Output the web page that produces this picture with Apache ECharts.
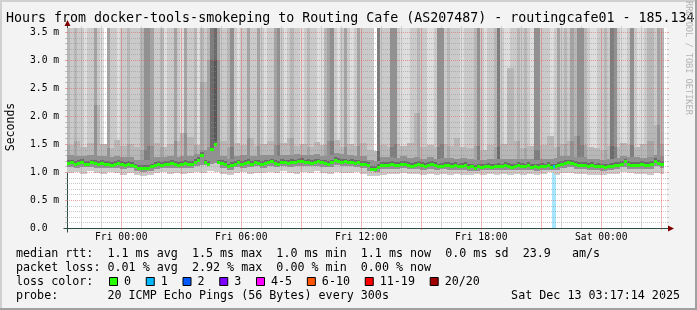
<!DOCTYPE html>
<html><head><meta charset="utf-8">
<script src="https://cdn.jsdelivr.net/npm/echarts@6.0.0/dist/echarts.min.js"></script>
<style>html,body{margin:0;padding:0;background:#f3f3f3;overflow:hidden}#chart{width:697px;height:310px}</style>
</head><body><div id="chart"></div>
<script>
// ---------------- data ----------------
const titleText = 'Hours from docker-tools-smokeping to Routing Cafe (AS207487) - routingcafe01 - 185.134';
const endHour = 27.2872;            // Sat 03:17:14, hours after Fri 00:00
const spanHours = 30;
const startHour = endHour - spanHours;
const stepHours = 1 / 6;            // 10-minute buckets
const yMax = 3.5714;                // ms
const yTickValues = [0, 0.5, 1.0, 1.5, 2.0, 2.5, 3.0, 3.5];
const xTickHours = [0, 6, 12, 18, 24];
const xTickLabels = ['Fri 00:00', 'Fri 06:00', 'Fri 12:00', 'Fri 18:00', 'Sat 00:00'];
const majorGridHours = [0,3,6,9,12,15,18,21,24,27];
const minorGridHours = [-2,-1,1,2,4,5,7,8,10,11,13,14,16,17,19,20,22,23,25,26];

// median rtt per 10-minute bucket (ms)
const medianRtt = [
  1.16,1.17,1.15,1.16,1.18,1.14,1.15,1.17,1.16,1.15,
  1.16,1.14,1.15,1.13,1.15,1.16,1.14,1.13,1.15,1.12,
  1.10,1.08,1.07,1.08,1.07,1.10,1.12,1.14,1.13,1.15,
  1.14,1.16,1.15,1.13,1.14,1.16,1.15,1.14,1.18,1.22,
  1.30,1.17,1.15,1.41,1.50,1.17,1.16,1.14,1.10,1.12,
  1.15,1.17,1.15,1.16,1.18,1.15,1.17,1.16,1.15,1.16,
  1.17,1.19,1.16,1.15,1.18,1.17,1.16,1.18,1.17,1.19,
  1.20,1.17,1.18,1.16,1.18,1.19,1.17,1.16,1.15,1.17,
  1.22,1.20,1.18,1.19,1.17,1.18,1.16,1.17,1.15,1.14,
  1.12,1.06,1.05,1.09,1.12,1.13,1.12,1.14,1.13,1.12,
  1.14,1.15,1.13,1.11,1.13,1.14,1.12,1.11,1.13,1.14,
  1.12,1.10,1.11,1.13,1.12,1.11,1.12,1.10,1.11,1.12,
  1.09,1.10,1.08,1.10,1.09,1.10,1.11,1.09,1.10,1.11,
  1.10,1.12,1.11,1.09,1.10,1.12,1.11,1.10,1.12,1.09,
  1.10,1.09,1.11,1.10,1.12,1.09,1.10,1.13,1.15,1.16,
  1.17,1.16,1.14,1.13,1.12,1.13,1.11,1.12,1.10,1.11,
  1.10,1.09,1.10,1.11,1.13,1.12,1.14,1.19,1.14,1.13,
  1.12,1.13,1.14,1.13,1.12,1.14,1.20,1.16,1.15
];
// number of the 20 pings above the top of the graph, per 10-minute bucket
const pingsAboveTop = [
  3,2,3,2,2,1,2,2,4,2, 1,0,4,2,2,1,2,2,3,2, 2,2,3,5,5,4,2,2,3,1,
  2,2,4,2,1,4,2,2,3,1, 3,2,3,6,7,4,2,2,3,5, 2,1,2,2,4,2,2,4,2,1,
  2,2,4,5,2,1,2,3,2,2, 1,2,3,2,2,1,1,3,4,5, 2,1,2,4,2,1,2,4,2,2,
  2,2,0,6,2,2,2,5,5,2, 1,1,1,2,2,3,2,2,1,1, 2,5,5,2,3,2,2,2,1,2,
  2,2,3,5,2,1,2,2,3,6, 2,1,1,2,2,3,2,3,2,1, 5,5,2,2,2,1,2,4,2,3,
  2,4,3,5,5,3,2,1,1,2, 2,3,2,6,5,2,1,1,2,5, 2,1,1,2,3,3,2,4,3
];
// smoke levels per 20-minute bucket (ms)
const pingMin = [
  0.98,1.00,0.97,1.01,0.99,0.96,1.00,0.98,0.95,0.99, 0.94,0.93,0.95,0.98,1.00,0.97,0.99,0.96,0.98,1.00,
  0.99,1.01,1.00,0.97,0.95,0.98,1.00,0.97,0.99,0.98, 1.00,0.98,1.01,0.99,0.97,1.00,0.98,1.01,0.99,0.97,
  1.00,0.99,0.98,1.00,0.96,0.93,0.92,0.95,0.97,0.96, 0.98,0.96,0.97,0.94,0.97,0.95,0.96,0.95,0.97,0.94,
  0.95,0.96,0.94,0.96,0.95,0.97,0.95,0.96,0.94,0.97, 0.95,0.96,1.00,0.95,0.98,0.99,0.96,0.97,0.95,0.94,
  0.95,0.96,0.97,1.00,0.98,0.96,0.97,0.95,0.99,0.97
];
const bandLow = [
  1.09,1.08,1.09,1.09,1.08,1.08,1.07,1.08,1.06,1.07, 1.02,1.00,1.01,1.05,1.07,1.08,1.07,1.08,1.07,1.10,
  1.12,1.14,1.16,1.08,1.04,1.09,1.08,1.09,1.10,1.08, 1.10,1.09,1.10,1.09,1.11,1.11,1.10,1.11,1.09,1.09,
  1.13,1.11,1.10,1.09,1.07,1.02,1.00,1.05,1.06,1.05, 1.07,1.05,1.06,1.04,1.06,1.04,1.05,1.04,1.04,1.04,
  1.02,1.02,1.03,1.03,1.03,1.04,1.03,1.04,1.03,1.04, 1.02,1.03,1.04,1.04,1.08,1.09,1.06,1.05,1.04,1.03,
  1.02,1.03,1.05,1.09,1.06,1.05,1.05,1.06,1.10,1.08
];
const bandHigh = [
  1.30,1.28,1.29,1.31,1.28,1.28,1.27,1.29,1.26,1.27, 1.22,1.21,1.22,1.26,1.27,1.28,1.27,1.29,1.28,1.33,
  1.40,1.45,1.50,1.29,1.24,1.29,1.30,1.28,1.29,1.30, 1.31,1.29,1.30,1.31,1.32,1.31,1.30,1.32,1.29,1.30,
  1.34,1.32,1.30,1.29,1.28,1.22,1.20,1.26,1.26,1.25, 1.28,1.25,1.27,1.24,1.27,1.24,1.25,1.25,1.24,1.25,
  1.23,1.22,1.22,1.23,1.24,1.24,1.23,1.24,1.23,1.24, 1.22,1.23,1.24,1.25,1.28,1.29,1.27,1.26,1.24,1.23,
  1.22,1.24,1.25,1.29,1.27,1.26,1.25,1.26,1.30,1.28
];
const bandUpper = [
  1.48,1.55,1.45,1.52,2.20,1.50,1.42,1.58,1.46,1.50, 1.44,1.40,1.47,1.52,1.45,1.50,1.55,1.70,1.62,1.48,
  2.60,3.00,3.00,1.55,1.45,1.52,1.48,1.60,1.46,1.50, 1.55,1.48,1.52,1.60,1.46,1.50,1.45,1.53,1.48,1.55,
  1.58,1.45,1.50,1.47,1.52,1.40,1.38,1.48,1.44,1.50, 1.46,1.52,2.05,1.45,1.48,1.44,1.50,1.46,1.60,1.45,
  1.42,1.46,1.40,1.48,1.44,1.50,2.85,1.55,1.42,1.46, 1.40,1.48,1.65,1.45,1.50,1.55,1.65,1.48,1.44,1.42,
  1.40,1.46,1.45,1.52,1.48,1.45,1.50,1.55,1.84,1.50
];
// packet loss events: start / end hour, lost pings
const lossStart = [21.53];
const lossEnd = [21.745];
const lossPings = [1];

const lossLegend = ['0', '1', '2', '3', '4-5', '6-10', '11-19', '20/20'];
const lossUpper = [0, 1, 2, 3, 5, 10, 19, 20];
const lossColors = ['#26ff00', '#00b8ff', '#0059ff', '#7e00ff', '#ff00ff', '#ff5500', '#ff0000', '#a10000'];

const statLines = [
  'median rtt:  1.1 ms avg  1.5 ms max  1.0 ms min  1.1 ms now  0.0 ms sd  23.9   am/s',
  'packet loss: 0.01 % avg  2.92 % max  0.00 % min  0.00 % now'
];
const lossColorLabel = 'loss color:';
const probeLine = 'probe:       20 ICMP Echo Pings (56 Bytes) every 300s';
const stampText = 'Sat Dec 13 03:17:14 2025';
const creditText = 'RRDTOOL / TOBI OETIKER';

// ---------------- styles ----------------
const FONT = "'DejaVu Sans Mono', monospace";
const GRID = 'rgba(144,144,144,0.5)';
const MGRID = 'rgba(224,80,80,0.5)';
const VGRID = 'rgba(150,150,150,0.35)';
const VMGRID = 'rgba(224,80,80,0.4)';
const AXIS = '#2c4d43';
const ARROW = '#800000';

function shade(level) {
  if (level <= 0) return null;
  level = Math.min(level, 10);
  const g = Math.round(190 / 10 * (10 - level)) + 50;
  const h = g.toString(16).padStart(2, '0');
  return '#' + h + h + h;
}
function lossIndex(n) { for (let i = 0; i < lossUpper.length; i++) if (n <= lossUpper[i]) return i; return lossUpper.length - 1; }

const smokeData = medianRtt.map((m, i) => {
  const j = Math.floor(i / 2);
  const t0 = startHour + i * stepHours;
  return [t0, t0 + stepHours, pingMin[j], bandLow[j], m, bandHigh[j], bandUpper[j], pingsAboveTop[i]];
});
const medianData = medianRtt.map((m, i) => {
  const t0 = startHour + i * stepHours;
  return [t0, t0 + stepHours, m];
});
const lossData = lossStart.map((s, n) => {
  const mid = (s + lossEnd[n]) / 2;
  const idx = Math.min(medianRtt.length - 1, Math.floor((mid - startHour) / stepHours));
  return [s, lossEnd[n], lossPings[n], medianRtt[idx]];
});
const gridLevels = [];
for (let k = 1; k <= Math.floor(yMax * 10); k++) gridLevels.push(k);   // tenths of a ms

function px(api, t, v) { const p = api.coord([t, v]); return [Math.round(p[0]), Math.round(p[1])]; }
function xr(api, t) { return px(api, t, 0)[0]; }
function yr(api, v) { return px(api, startHour, Math.max(0, Math.min(v, yMax)))[1]; }

function renderSmoke(params, api) {
  const t0 = api.value(0), t1 = api.value(1);
  const x0 = xr(api, t0), x1 = xr(api, t1);
  const kids = [];
  const band = (lo, hi, col) => {
    if (!col) return;
    const ya = yr(api, hi), yb = yr(api, lo);
    if (yb - ya <= 0) return;
    kids.push({ type: 'rect', shape: { x: x0, y: ya, width: x1 - x0, height: yb - ya }, style: { fill: col } });
  };
  const pMin = api.value(2), pLow = api.value(3), med = api.value(4), pHigh = api.value(5), pUp = api.value(6), k = api.value(7);
  band(pUp, yMax, shade(k));
  band(pHigh, pUp, shade(Math.max(k + 1, 3)));
  band(pMin, pLow, shade(2));
  band(pLow, pHigh, shade(5));
  band(med - 0.03, med + 0.05, shade(7));
  return { type: 'group', children: kids };
}
function renderMedian(params, api) {
  const x0 = xr(api, api.value(0)), x1 = xr(api, api.value(1));
  const y = yr(api, api.value(2));
  return { type: 'rect', shape: { x: x0, y: y - 1, width: x1 - x0, height: 3 }, style: { fill: lossColors[0] } };
}
function renderLossBg(params, api) {
  const x0 = xr(api, api.value(0)), x1 = xr(api, api.value(1));
  const col = lossColors[lossIndex(api.value(2))];
  const ya = yr(api, yMax), yb = yr(api, 0);
  return { type: 'rect', shape: { x: x0, y: ya, width: x1 - x0, height: yb - ya }, style: { fill: col, opacity: 0.35 } };
}
function renderLossCap(params, api) {
  const x0 = xr(api, api.value(0)), x1 = xr(api, api.value(1));
  const col = lossColors[lossIndex(api.value(2))];
  const y = yr(api, api.value(3));
  return { type: 'rect', shape: { x: x0 + 1, y: y - 1, width: Math.max(2, x1 - x0 - 2), height: 3 }, style: { fill: col } };
}
// horizontal grid: dotted lines as 1px dots
function renderGridH(params, api) {
  const kids = [];
  const dot = (x, y, w, h, col) => kids.push({ type: 'rect', shape: { x: x, y: y, width: w, height: h }, style: { fill: col } });
  const l = xr(api, startHour), r = xr(api, endHour);
  gridLevels.forEach(k => {
    const col = k % 5 === 0 ? MGRID : GRID;
    const y = yr(api, k / 10);
    for (let x = l; x < r; x += 2) dot(x, y, 1, 1, col);
    dot(l - 2, y, 2, 1, col);
    dot(r, y, 2, 1, col);
  });
  return { type: 'group', children: kids };
}

const chart = echarts.init(document.getElementById('chart'), null, { renderer: 'canvas' });
chart.setOption({
  animation: false,
  backgroundColor: '#f3f3f3',
  grid: { left: 67, right: 30, top: 28, bottom: 82, show: true, backgroundColor: '#ffffff', borderWidth: 0 },
  xAxis: [{
    // bottom axis: labels every 6 h, red major grid every 3 h
    type: 'value', min: startHour, max: endHour, position: 'bottom', z: 3,
    axisLine: { show: false },
    axisTick: { show: true, customValues: majorGridHours, length: 2, inside: false, lineStyle: { color: VMGRID } },
    splitLine: { show: true, lineStyle: { color: VMGRID, type: 'solid', width: 1 } },
    axisLabel: {
      customValues: majorGridHours, margin: 4, color: '#000', fontFamily: FONT, fontSize: 9.7,
      formatter: v => { const i = xTickHours.indexOf(v); return i >= 0 ? xTickLabels[i] : ''; }
    }
  }, {
    // top axis: grey minor grid every hour
    type: 'value', min: startHour, max: endHour, position: 'top', z: 3,
    axisLine: { show: false },
    axisTick: { show: true, customValues: minorGridHours, length: 2, lineStyle: { color: VGRID } },
    splitLine: { show: true, lineStyle: { color: VGRID, type: 'solid', width: 1 } },
    axisLabel: { show: false }
  }],
  yAxis: {
    type: 'value', min: 0, max: yMax,
    axisLine: { show: false }, axisTick: { show: false }, splitLine: { show: false },
    axisLabel: {
      customValues: yTickValues, margin: 37, align: 'left', color: '#000', fontFamily: FONT, fontSize: 9.7,
      formatter: v => v === 0 ? '0.0' : v.toFixed(1) + ' m'
    }
  },
  series: [
    { type: 'custom', name: 'lossbg', z: 1, data: lossData, renderItem: renderLossBg, silent: true },
    { type: 'custom', name: 'smoke', z: 2, data: smokeData, renderItem: renderSmoke, silent: true },
    { type: 'custom', name: 'gridH', z: 3, data: [[startHour, 0]], renderItem: renderGridH, silent: true },
    { type: 'custom', name: 'median', z: 4, data: medianData, renderItem: renderMedian, silent: true },
    { type: 'custom', name: 'losscap', z: 5, data: lossData, renderItem: renderLossCap, silent: true }
  ]
});

const p0 = chart.convertToPixel({ gridIndex: 0 }, [startHour, 0]);
const p1 = chart.convertToPixel({ gridIndex: 0 }, [endHour, yMax]);
const ax = Math.round(p0[0]) + 0.5, ay = Math.round(p0[1]) + 0.5;
const rx = Math.round(p1[0]), ty = Math.round(p1[1]);
const W = 697, H = 310;
const cw = 7.05;
const txt = (x, y, text, extra) => Object.assign({ type: 'text', x, y, silent: true, style: Object.assign({ text, fill: '#000', font: '11.7px ' + FONT, align: 'left', verticalAlign: 'middle' }, extra || {}) });
const g = [];
// frame shades
g.push({ type: 'rect', silent: true, shape: { x: 0, y: 0, width: W, height: 2 }, style: { fill: '#d0d0d0' } });
g.push({ type: 'rect', silent: true, shape: { x: 0, y: 0, width: 2, height: H }, style: { fill: '#d0d0d0' } });
g.push({ type: 'rect', silent: true, shape: { x: 0, y: H - 2, width: W, height: 2 }, style: { fill: '#a0a0a0' } });
g.push({ type: 'rect', silent: true, shape: { x: W - 2, y: 0, width: 2, height: H }, style: { fill: '#a0a0a0' } });
// axes + arrows
g.push({ type: 'line', silent: true, shape: { x1: ax - 4, y1: ay, x2: rx + 4, y2: ay }, style: { stroke: AXIS, lineWidth: 1 } });
g.push({ type: 'line', silent: true, shape: { x1: ax, y1: ay + 4, x2: ax, y2: ty - 4 }, style: { stroke: AXIS, lineWidth: 1 } });
g.push({ type: 'polygon', silent: true, shape: { points: [[rx + 1, ay - 3], [rx + 1, ay + 3], [rx + 7, ay]] }, style: { fill: ARROW } });
g.push({ type: 'polygon', silent: true, shape: { points: [[ax - 3, ty - 2], [ax + 3, ty - 2], [ax, ty - 8]] }, style: { fill: ARROW } });
// title, axis title, credit
g.push(txt(6, 18.5, titleText, { font: '13.3px ' + FONT }));
g.push({ type: 'text', x: 11, y: 127, rotation: Math.PI / 2, silent: true, style: { text: 'Seconds', fill: '#000', font: '11.5px ' + FONT, align: 'center', verticalAlign: 'middle' } });
g.push({ type: 'text', x: 688, y: 1, rotation: -Math.PI / 2, silent: true, style: { text: creditText, fill: '#b4b4b4', font: '8.6px ' + FONT, align: 'left', verticalAlign: 'middle' } });
// legend
g.push(txt(16, 254, statLines[0]));
g.push(txt(16, 268, statLines[1]));
g.push(txt(16, 282, lossColorLabel));
let bx = 109;
lossLegend.forEach((lab, i) => {
  g.push({ type: 'rect', silent: true, shape: { x: bx + 0.5, y: 277.5, width: 8, height: 8 }, style: { fill: lossColors[i], stroke: '#000', lineWidth: 1 } });
  const lx = bx + 15;
  g.push(txt(lx, 282, lab));
  bx = lx + lab.length * cw + 14.7;
});
g.push(txt(16, 296, probeLine));
g.push(txt(680, 296, stampText, { align: 'right' }));
chart.setOption({ graphic: g });
</script></body></html>
